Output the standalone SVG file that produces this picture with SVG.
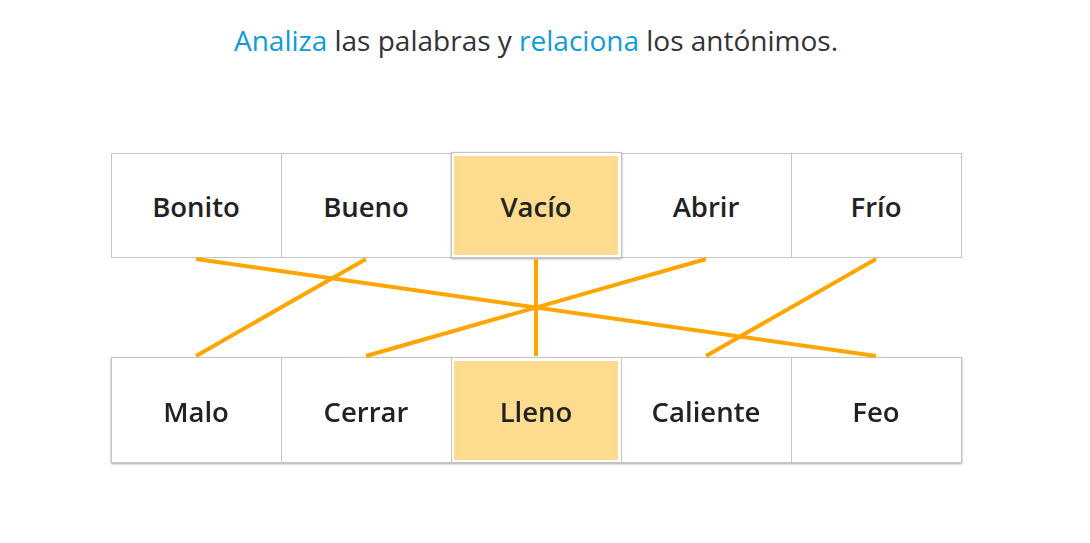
<svg xmlns="http://www.w3.org/2000/svg" width="1090" height="543" viewBox="0 0 1090 543">
<defs>
<style>
.title{font-family:"Open Sans","Noto Sans",sans-serif;font-size:28px;fill:#333;}
.hl{fill:#0f9bd7;}
.box{fill:#fff;stroke:#c4c4c4;stroke-width:1;}
.sel{fill:#fddc8f;}
.lbl{font-family:"Open Sans","Noto Sans",sans-serif;font-size:27.5px;font-weight:600;fill:#222;text-anchor:middle;}
.con{stroke:#ffa500;stroke-width:4;stroke-linecap:butt;}
</style>
<filter id="sh" x="-10%" y="-10%" width="120%" height="130%">
<feDropShadow dx="0" dy="1" stdDeviation="1" flood-color="#000" flood-opacity="0.35"/>
</filter>
</defs>
<rect width="1090" height="543" fill="#fff"/>
<text class="title" x="536" y="51" text-anchor="middle"><tspan class="hl">Analiza</tspan> las palabras y <tspan class="hl">relaciona</tspan> los antónimos.</text>

<g id="top">
<g id="n-bonito"><rect class="box" x="111.5" y="153.5" width="170" height="104"/><text class="lbl" x="196" y="217">Bonito</text></g>
<g id="n-bueno"><rect class="box" x="281.5" y="153.5" width="170" height="104"/><text class="lbl" x="366" y="217">Bueno</text></g>
<g id="n-abrir"><rect class="box" x="621.5" y="153.5" width="170" height="104"/><text class="lbl" x="706" y="217">Abrir</text></g>
<g id="n-frio"><rect class="box" x="791.5" y="153.5" width="170" height="104"/><text class="lbl" x="876" y="217">Frío</text></g>
<g id="n-vacio"><rect class="box" x="451.5" y="152.5" width="170" height="105" filter="url(#sh)" stroke="#999"/><rect class="sel" x="454" y="156" width="164" height="99"/><text class="lbl" x="536" y="217">Vacío</text></g>
</g>

<g id="bottom" filter="url(#sh)">
<g id="n-malo"><rect class="box" x="111.5" y="357.5" width="170" height="105" stroke="#aaa"/><text class="lbl" x="196" y="422">Malo</text></g>
<g id="n-cerrar"><rect class="box" x="281.5" y="357.5" width="170" height="105" stroke="#aaa"/><text class="lbl" x="366" y="422">Cerrar</text></g>
<g id="n-lleno"><rect class="box" x="451.5" y="357.5" width="170" height="105" stroke="#aaa"/><rect class="sel" x="454" y="361" width="164" height="99"/><text class="lbl" x="536" y="422">Lleno</text></g>
<g id="n-caliente"><rect class="box" x="621.5" y="357.5" width="170" height="105" stroke="#aaa"/><text class="lbl" x="706" y="422">Caliente</text></g>
<g id="n-feo"><rect class="box" x="791.5" y="357.5" width="170" height="105" stroke="#aaa"/><text class="lbl" x="876" y="422">Feo</text></g>
</g>

<g id="connectors">
<line class="con" x1="196" y1="259" x2="876" y2="356"/>
<line class="con" x1="366" y1="259" x2="196" y2="356"/>
<line class="con" x1="536" y1="259" x2="536" y2="356"/>
<line class="con" x1="706" y1="259" x2="366" y2="356"/>
<line class="con" x1="876" y1="259" x2="706" y2="356"/>
</g>
</svg>
